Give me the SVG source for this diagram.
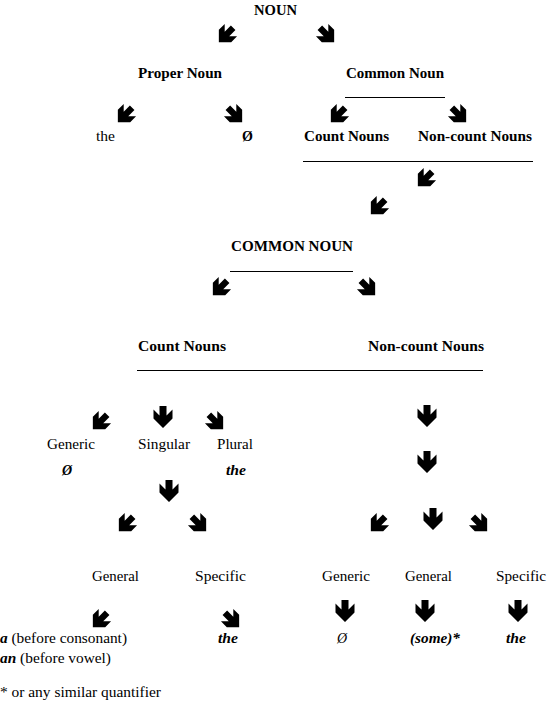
<svg xmlns="http://www.w3.org/2000/svg" xmlns:xlink="http://www.w3.org/1999/xlink" width="553" height="701" viewBox="0 0 553 701">
<style>
text{font-family:"Times New Roman","Liberation Serif",Times,serif;font-size:14px;fill:#000}
.b{font-weight:bold}
.bi{font-weight:bold;font-style:italic}
.i{font-style:italic}
.ln{stroke:#000;stroke-width:1;fill:none}
</style>
<defs>
<path id="dn" d="M-3.5,-11 L3.5,-11 L3.5,-1.5 L9.5,-7.5 L9.5,1.5 L0,11 L-9.5,1.5 L-9.5,-7.5 L-3.5,-1.5 Z" fill="#000"/>
<use id="sw" xlink:href="#dn" href="#dn" transform="translate(-2,2) rotate(45) scale(0.92)"/>
<use id="se" xlink:href="#dn" href="#dn" transform="translate(2,2) rotate(-45) scale(0.92)"/>
</defs>
<rect width="553" height="701" fill="#fff"/>
<g id="connectors">
<use href="#sw" xlink:href="#sw" transform="translate(228,33)"/>
<use href="#se" xlink:href="#se" transform="translate(325,33)"/>
<use href="#sw" xlink:href="#sw" transform="translate(127,113)"/>
<use href="#se" xlink:href="#se" transform="translate(233,113)"/>
<use href="#sw" xlink:href="#sw" transform="translate(340,113)"/>
<use href="#se" xlink:href="#se" transform="translate(457,113)"/>
<use href="#sw" xlink:href="#sw" transform="translate(427,177)"/>
<use href="#sw" xlink:href="#sw" transform="translate(380,205)"/>
<use href="#sw" xlink:href="#sw" transform="translate(222,286)"/>
<use href="#se" xlink:href="#se" transform="translate(366,286)"/>
<use href="#sw" xlink:href="#sw" transform="translate(102,420)"/>
<use href="#dn" xlink:href="#dn" transform="translate(163,417)"/>
<use href="#se" xlink:href="#se" transform="translate(214,420)"/>
<use href="#dn" xlink:href="#dn" transform="translate(169,491)"/>
<use href="#sw" xlink:href="#sw" transform="translate(128,522)"/>
<use href="#se" xlink:href="#se" transform="translate(197,522)"/>
<use href="#sw" xlink:href="#sw" transform="translate(102,618)"/>
<use href="#se" xlink:href="#se" transform="translate(230,618)"/>
<use href="#dn" xlink:href="#dn" transform="translate(427,416)"/>
<use href="#dn" xlink:href="#dn" transform="translate(427,462)"/>
<use href="#sw" xlink:href="#sw" transform="translate(380,522)"/>
<use href="#dn" xlink:href="#dn" transform="translate(433,519)"/>
<use href="#se" xlink:href="#se" transform="translate(478,522)"/>
<use href="#dn" xlink:href="#dn" transform="translate(345,611)"/>
<use href="#dn" xlink:href="#dn" transform="translate(425,611)"/>
<use href="#dn" xlink:href="#dn" transform="translate(518,611)"/>
<line class="ln" x1="345" y1="97.5" x2="445" y2="97.5"/>
<line class="ln" x1="303" y1="161.5" x2="533" y2="161.5"/>
<line class="ln" x1="230" y1="271.5" x2="353" y2="271.5"/>
<line class="ln" x1="137" y1="370.5" x2="483" y2="370.5"/>
</g>
<g id="noun"><text class="b" x="254" y="15" textLength="43" lengthAdjust="spacingAndGlyphs">NOUN</text></g>
<g id="proper-noun"><text class="b" x="138" y="78" textLength="84" lengthAdjust="spacingAndGlyphs">Proper Noun</text></g>
<g id="common-noun"><text class="b" x="346" y="78" textLength="98" lengthAdjust="spacingAndGlyphs">Common Noun</text></g>
<g id="the1"><text x="96" y="141" textLength="19" lengthAdjust="spacingAndGlyphs">the</text></g>
<g id="zero1"><text class="b" x="242" y="141">Ø</text></g>
<g id="count1"><text class="b" x="304" y="141" textLength="85" lengthAdjust="spacingAndGlyphs">Count Nouns</text></g>
<g id="noncount1"><text class="b" x="418" y="141" textLength="114" lengthAdjust="spacingAndGlyphs">Non-count Nouns</text></g>
<g id="common-noun-caps"><text class="b" x="231" y="251" textLength="122" lengthAdjust="spacingAndGlyphs">COMMON NOUN</text></g>
<g id="count2"><text class="b" x="138" y="351" textLength="88" lengthAdjust="spacingAndGlyphs">Count Nouns</text></g>
<g id="noncount2"><text class="b" x="368" y="351" textLength="116" lengthAdjust="spacingAndGlyphs">Non-count Nouns</text></g>
<g id="generic1"><text x="47" y="449" textLength="48" lengthAdjust="spacingAndGlyphs">Generic</text></g>
<g id="singular"><text x="138" y="449" textLength="52" lengthAdjust="spacingAndGlyphs">Singular</text></g>
<g id="plural"><text x="217" y="449" textLength="36" lengthAdjust="spacingAndGlyphs">Plural</text></g>
<g id="zero2"><text class="bi" x="62" y="475">Ø</text></g>
<g id="the2"><text class="bi" x="226" y="475" textLength="20" lengthAdjust="spacingAndGlyphs">the</text></g>
<g id="general1"><text x="92" y="581" textLength="47" lengthAdjust="spacingAndGlyphs">General</text></g>
<g id="specific1"><text x="195" y="581" textLength="51" lengthAdjust="spacingAndGlyphs">Specific</text></g>
<g id="a-an"><text x="0" y="643" textLength="127" lengthAdjust="spacingAndGlyphs"><tspan class="bi">a</tspan> (before consonant)</text><text x="0" y="663" textLength="111" lengthAdjust="spacingAndGlyphs"><tspan class="bi">an</tspan> (before vowel)</text></g>
<g id="the3"><text class="bi" x="218" y="643" textLength="20" lengthAdjust="spacingAndGlyphs">the</text></g>
<g id="generic2"><text x="322" y="581" textLength="48" lengthAdjust="spacingAndGlyphs">Generic</text></g>
<g id="general2"><text x="405" y="581" textLength="47" lengthAdjust="spacingAndGlyphs">General</text></g>
<g id="specific2"><text x="496" y="581" textLength="50" lengthAdjust="spacingAndGlyphs">Specific</text></g>
<g id="zero3"><text class="i" x="337" y="643">Ø</text></g>
<g id="some"><text class="bi" x="410" y="643" textLength="50" lengthAdjust="spacingAndGlyphs">(some)*</text></g>
<g id="the4"><text class="bi" x="506" y="643" textLength="20" lengthAdjust="spacingAndGlyphs">the</text></g>
<g id="footnote"><text x="0" y="697" textLength="161" lengthAdjust="spacingAndGlyphs">* or any similar quantifier</text></g>
</svg>
